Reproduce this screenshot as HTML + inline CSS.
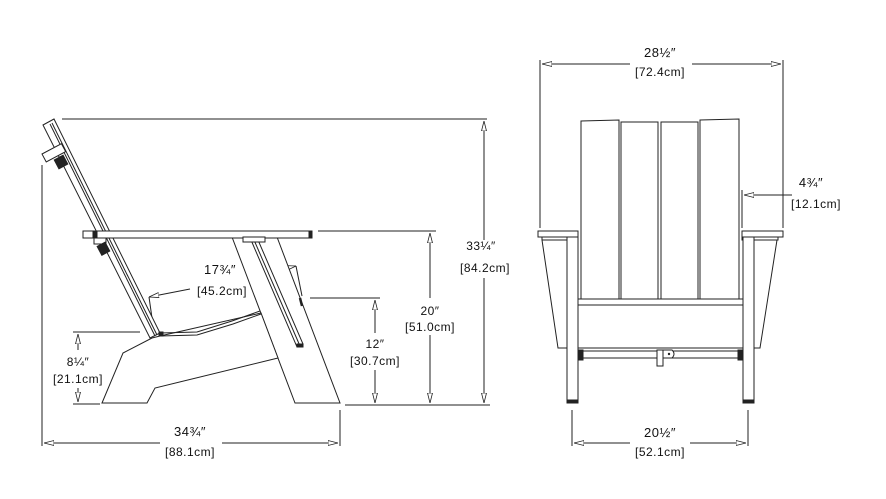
<!DOCTYPE html>
<html><head><meta charset="utf-8"><style>
html,body{margin:0;padding:0;background:#fff;}
svg{display:block;}
text{font-family:"Liberation Sans",sans-serif;font-size:12px;fill:#111;text-anchor:middle;letter-spacing:0.5px;}
</style></head><body>
<svg width="886" height="499" viewBox="0 0 886 499" xmlns="http://www.w3.org/2000/svg">
<defs>
<marker id="a" viewBox="0 0 10 6" refX="10" refY="3" markerWidth="10" markerHeight="6" orient="auto-start-reverse" markerUnits="userSpaceOnUse"><path d="M0,0.5 L10,3 L0,5.5 Z" fill="#fff" stroke="#222" stroke-width="0.8"/></marker>
</defs>
<g stroke="#222" stroke-width="1" fill="none">
<line x1="62" y1="119" x2="487" y2="119"/>
<line x1="484" y1="121" x2="484" y2="240" marker-start="url(#a)"/>
<line x1="484" y1="278" x2="484" y2="403" marker-end="url(#a)"/>
<line x1="318" y1="231" x2="436" y2="231"/>
<line x1="430" y1="233" x2="430" y2="298" marker-start="url(#a)"/>
<line x1="430" y1="335" x2="430" y2="403" marker-end="url(#a)"/>
<line x1="310" y1="298" x2="380" y2="298"/>
<line x1="375" y1="300" x2="375" y2="333" marker-start="url(#a)"/>
<line x1="375" y1="370" x2="375" y2="403" marker-end="url(#a)"/>
<line x1="345" y1="405" x2="490" y2="405"/>
<line x1="73" y1="332" x2="140" y2="332"/>
<line x1="73" y1="404" x2="100" y2="404"/>
<line x1="78" y1="334" x2="78" y2="350" marker-start="url(#a)"/>
<line x1="78" y1="388" x2="78" y2="402" marker-end="url(#a)"/>
<line x1="42" y1="165" x2="42" y2="446"/>
<line x1="340" y1="410" x2="340" y2="446"/>
<line x1="44" y1="443" x2="160" y2="443" marker-start="url(#a)"/>
<line x1="222" y1="443" x2="338" y2="443" marker-end="url(#a)"/>
<line x1="253" y1="275" x2="296" y2="266" marker-end="url(#a)"/>
<line x1="296" y1="266" x2="302" y2="296"/>
<line x1="190" y1="289" x2="149" y2="297" marker-end="url(#a)"/>
<line x1="149" y1="297" x2="152" y2="318"/>
<polygon points="43,125 54,119 160,333 150,338" fill="#fff"/>
<line x1="50" y1="124" x2="155" y2="336"/>
<line x1="52" y1="123" x2="157" y2="335"/>
<rect x="42" y="154" width="22" height="9" transform="rotate(-28 42 154)" fill="#fff"/>
<rect x="56" y="157" width="10" height="10" fill="#222" transform="rotate(-28 61 162)"/>
<polygon points="232,237 277,237 340,403 295,403" fill="#fff"/>
<polygon points="102,403 123,353 152,338 160,336 261,313 278,358 155,388 147,403" fill="#fff"/>
<polyline points="160,333 197,332 232,321 260,311"/>
<polyline points="160,336 197,335 233,324 261,314"/>
<rect x="159" y="332" width="4" height="4" fill="#222"/>
<rect x="83" y="231" width="229" height="7" fill="#fff"/>
<rect x="93" y="231" width="4" height="7" fill="#222"/>
<rect x="309" y="231" width="3" height="7" fill="#222"/>
<rect x="94" y="238" width="12" height="6" fill="#fff"/>
<rect x="99" y="244" width="9" height="10" fill="#222" transform="rotate(-28 103 249)"/>
<polygon points="251,240 258,240 303,344 297,347" fill="#fff"/>
<line x1="254" y1="240" x2="300" y2="346"/>
<rect x="243" y="237" width="22" height="5" fill="#fff"/>
<rect x="297" y="344" width="6" height="3" fill="#222"/>
<line x1="300" y1="298" x2="302" y2="306" stroke-width="2.5"/>
<line x1="540" y1="60" x2="540" y2="228"/>
<line x1="783" y1="60" x2="783" y2="228"/>
<line x1="542" y1="64" x2="630" y2="64" marker-start="url(#a)"/>
<line x1="692" y1="64" x2="781" y2="64" marker-end="url(#a)"/>
<line x1="742" y1="190" x2="742" y2="228"/>
<line x1="744" y1="195" x2="781" y2="195" marker-start="url(#a)" />
<line x1="781" y1="195" x2="792" y2="195"/>
<line x1="572" y1="410" x2="572" y2="446"/>
<line x1="748" y1="410" x2="748" y2="446"/>
<line x1="574" y1="443" x2="630" y2="443" marker-start="url(#a)"/>
<line x1="690" y1="443" x2="746" y2="443" marker-end="url(#a)"/>
<polygon points="542,240 572,240 572,348 558,348" fill="#fff"/>
<polygon points="748,240 777,240 760,348 748,348" fill="#fff"/>
<path d="M581,121 L619,120 L619,300 L581,300 Z" fill="#fff"/>
<path d="M621,122 L658,122 L658,300 L621,300 Z" fill="#fff"/>
<path d="M661,122 L698,122 L698,300 L661,300 Z" fill="#fff"/>
<path d="M700,120 L739,119 L739,300 L700,300 Z" fill="#fff"/>
<rect x="538" y="231" width="40" height="6" fill="#fff"/>
<rect x="742" y="231" width="41" height="6" fill="#fff"/>
<rect x="542" y="237" width="36" height="3" fill="#fff"/>
<rect x="742" y="237" width="36" height="3" fill="#fff"/>
<rect x="572" y="299" width="176" height="6" fill="#fff"/>
<rect x="572" y="305" width="176" height="43" fill="#fff"/>
<rect x="567" y="237" width="11" height="166" fill="#fff"/>
<rect x="743" y="237" width="11" height="166" fill="#fff"/>
<rect x="567" y="400" width="11" height="3" fill="#222"/>
<rect x="743" y="400" width="11" height="3" fill="#222"/>
<rect x="578" y="350" width="5" height="10" fill="#222"/>
<rect x="738" y="350" width="5" height="10" fill="#222"/>
<rect x="583" y="351" width="155" height="7" fill="#fff"/>
<rect x="657" y="350" width="6" height="16" fill="#fff"/>
<path d="M663,350 L672,350 Q676,354 672,358 L663,358 Z" fill="#fff"/>
</g>
<circle cx="669" cy="354" r="1.2" fill="#222"/>
<text x="481" y="250">33¼″</text>
<text x="485" y="272">[84.2cm]</text>
<text x="430" y="315">20″</text>
<text x="430" y="331">[51.0cm]</text>
<text x="375" y="348">12″</text>
<text x="375" y="365">[30.7cm]</text>
<text x="78" y="366">8¼″</text>
<text x="78" y="383">[21.1cm]</text>
<text x="190" y="436" style="font-size:13px">34¾″</text>
<text x="190" y="456">[88.1cm]</text>
<text x="220" y="274" style="font-size:13px">17¾″</text>
<text x="222" y="295">[45.2cm]</text>
<text x="660" y="57" style="font-size:13px">28½″</text>
<text x="660" y="76">[72.4cm]</text>
<text x="811" y="187" style="font-size:13px">4¾″</text>
<text x="816" y="208">[12.1cm]</text>
<text x="660" y="437" style="font-size:13px">20½″</text>
<text x="660" y="456">[52.1cm]</text>
</svg>
</body></html>
